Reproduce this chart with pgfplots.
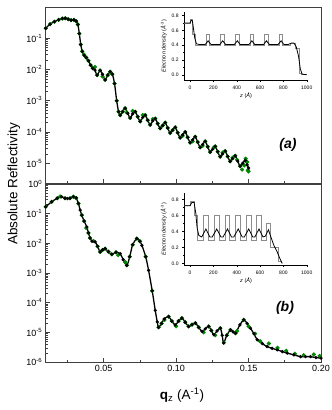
\documentclass[border=0pt]{standalone}
\usepackage{fontspec}
\setmainfont{Liberation Sans}
\usepackage{pgfplots}
\pgfplotsset{compat=1.18}
\pgfplotsset{
  mainax/.style={scale only axis, width=275.3pt, xmin=0.01, xmax=0.2,
    axis line style={black!75, line width=0.9pt},
    tick style={black!75, line width=0.6pt},
    xtick pos=left, ytick pos=left, tick align=inside,
    major tick length=4pt, minor tick length=2.2pt,
    xtick={0.05,0.1,0.15,0.2}, minor xtick={0.025,0.075,0.125,0.175},
    tick label style={font=\fontsize{9}{10}\selectfont},
    clip=false},
  fitline/.style={black, line width=1.3pt, mark=*, mark size=0.9pt, smooth, tension=0.5},
  dat/.style={only marks, mark=*, mark size=1.9pt, mark options={fill=green!55!black, draw=black!50!green, line width=0.4pt}},
  insetax/.style={scale only axis, width=123.7pt, xmin=-50, xmax=1010,
    axis x line*=bottom, axis y line*=left,
    axis line style={black, line width=0.5pt, -},
    tick style={black, line width=0.4pt},
    xtick={0,200,400,600,800,1000}, minor xtick={100,300,500,700,900},
    ytick={0,0.2,0.4,0.6,0.8}, minor ytick={0.1,0.3,0.5,0.7},
    tick align=outside, major tick length=2pt, minor tick length=1.2pt,
    tick label style={font=\fontsize{5}{6}\selectfont},
    /pgf/number format/assume math mode=true,
    yticklabel style={/pgf/number format/.cd, fixed, fixed zerofill, precision=1},
    xticklabel style={/pgf/number format/.cd, fixed, 1000 sep={}},
    xlabel={\textit{z} (\textit{Å})},
    ylabel={\textit{Electron density} (\textit{Å}\textsuperscript{-3})},
    label style={font=\fontsize{5.5}{6.5}\selectfont},
    xlabel style={yshift=3pt}, ylabel style={yshift=-2pt}},
  boxp/.style={black!45, line width=1pt},
  smp/.style={black, line width=0.8pt}
}
\begin{document}
\begin{tikzpicture}
\useasboundingbox (0,0) rectangle (332pt,410pt);
% ---------------- upper panel (a) ----------------
\begin{axis}[mainax, ymode=log, at={(45.7pt,227pt)}, anchor=south west, height=176pt,
  ymin=2.34e-6, ymax=1, xticklabels={},
  ytick={1e-5,1e-4,1e-3,1e-2,1e-1},
  yticklabels={10\textsuperscript{-5},10\textsuperscript{-4},10\textsuperscript{-3},10\textsuperscript{-2},10\textsuperscript{-1}}]
\addplot[dat] table {
q R
0.0100 2.089e-1
0.0130 2.818e-1
0.0160 3.388e-1
0.0190 3.890e-1
0.0215 4.266e-1
0.0235 4.365e-1
0.0255 4.074e-1
0.0275 3.802e-1
0.0295 3.890e-1
0.0310 3.548e-1
0.0322 2.754e-1
0.0332 1.413e-1
0.0342 6.310e-2
0.0352 3.802e-2
0.0365 3.000e-2
0.0380 2.399e-2
0.0395 1.905e-2
0.0410 1.380e-2
0.0425 1.096e-2
0.0440 1.200e-2
0.0455 6.607e-3
0.0475 9.333e-3
0.0492 6.000e-3
0.0510 4.677e-3
0.0528 6.607e-3
0.0545 8.511e-3
0.0560 7.079e-3
0.0575 3.548e-3
0.0590 1.000e-3
0.0603 4.467e-4
0.0614 3.467e-4
0.0631 4.467e-4
0.0648 5.754e-4
0.0660 4.200e-4
0.0683 2.818e-4
0.0700 4.700e-4
0.0718 4.467e-4
0.0735 3.090e-4
0.0752 2.188e-4
0.0770 3.500e-4
0.0787 3.467e-4
0.0804 2.399e-4
0.0821 1.698e-4
0.0839 2.600e-4
0.0856 2.692e-4
0.0873 1.862e-4
0.0890 1.318e-4
0.0908 1.622e-4
0.0925 1.995e-4
0.0942 1.349e-4
0.0959 9.333e-5
0.0976 1.148e-4
0.0994 1.413e-4
0.1011 9.550e-5
0.1028 6.607e-5
0.1045 7.500e-5
0.1063 1.000e-4
0.1080 6.761e-5
0.1097 4.571e-5
0.1114 5.000e-5
0.1132 7.079e-5
0.1149 4.786e-5
0.1166 3.236e-5
0.1183 3.600e-5
0.1201 5.012e-5
0.1218 3.388e-5
0.1235 2.291e-5
0.1260 3.200e-5
0.1270 3.467e-5
0.1287 2.344e-5
0.1304 1.622e-5
0.1321 2.200e-5
0.1339 2.455e-5
0.1356 1.660e-5
0.1373 1.148e-5
0.1390 1.500e-5
0.1408 1.738e-5
0.1420 1.300e-5
0.1442 8.128e-6
0.1455 6.300e-6
0.1470 8.500e-6
0.1480 1.400e-5
0.1490 1.100e-5
0.1495 6.000e-6
0.1500 5.500e-6
};
\addplot[fitline] table {
q R
0.0100 2.089e-1
0.0130 2.818e-1
0.0160 3.388e-1
0.0190 3.890e-1
0.0215 4.266e-1
0.0235 4.365e-1
0.0255 4.074e-1
0.0275 3.802e-1
0.0295 3.890e-1
0.0310 3.548e-1
0.0322 2.754e-1
0.0332 1.413e-1
0.0342 6.310e-2
0.0352 3.802e-2
0.0365 2.818e-2
0.0380 2.399e-2
0.0395 1.905e-2
0.0410 1.380e-2
0.0425 1.096e-2
0.0440 9.550e-3
0.0455 6.607e-3
0.0475 9.333e-3
0.0492 7.079e-3
0.0510 4.677e-3
0.0528 6.607e-3
0.0545 8.511e-3
0.0560 7.079e-3
0.0575 3.548e-3
0.0590 1.000e-3
0.0603 4.467e-4
0.0614 3.467e-4
0.0631 4.467e-4
0.0648 5.754e-4
0.0666 3.981e-4
0.0683 2.818e-4
0.0700 3.802e-4
0.0718 4.467e-4
0.0735 3.090e-4
0.0752 2.188e-4
0.0770 2.951e-4
0.0787 3.467e-4
0.0804 2.399e-4
0.0821 1.698e-4
0.0839 2.291e-4
0.0856 2.692e-4
0.0873 1.862e-4
0.0890 1.318e-4
0.0908 1.622e-4
0.0925 1.995e-4
0.0942 1.349e-4
0.0959 9.333e-5
0.0976 1.148e-4
0.0994 1.413e-4
0.1011 9.550e-5
0.1028 6.607e-5
0.1045 8.128e-5
0.1063 1.000e-4
0.1080 6.761e-5
0.1097 4.571e-5
0.1114 5.623e-5
0.1132 7.079e-5
0.1149 4.786e-5
0.1166 3.236e-5
0.1183 3.981e-5
0.1201 5.012e-5
0.1218 3.388e-5
0.1235 2.291e-5
0.1252 2.818e-5
0.1270 3.467e-5
0.1287 2.344e-5
0.1304 1.622e-5
0.1321 1.995e-5
0.1339 2.455e-5
0.1356 1.660e-5
0.1373 1.148e-5
0.1390 1.413e-5
0.1408 1.738e-5
0.1425 1.175e-5
0.1442 8.128e-6
0.1460 1.000e-5
0.1477 1.230e-5
0.1490 8.913e-6
0.1500 7.079e-6
};
\end{axis}
% ---------------- lower panel (b) ----------------
\begin{axis}[mainax, ymode=log, at={(45.7pt,48pt)}, anchor=south west, height=178pt,
  ymin=1e-6, ymax=1, xticklabels={0.05,0.10,0.15,0.20},
  ytick={1e-6,1e-5,1e-4,1e-3,1e-2,1e-1,1},
  yticklabels={10\textsuperscript{-6},10\textsuperscript{-5},10\textsuperscript{-4},10\textsuperscript{-3},10\textsuperscript{-2},10\textsuperscript{-1},10\textsuperscript{0}}]
\addplot[dat] table {
q R
0.0100 1.698e-1
0.0141 2.512e-1
0.0180 3.311e-1
0.0200 3.800e-1
0.0233 3.311e-1
0.0268 3.311e-1
0.0291 3.715e-1
0.0310 3.388e-1
0.0326 2.188e-1
0.0349 8.913e-2
0.0365 5.623e-2
0.0380 3.300e-2
0.0395 2.239e-2
0.0406 1.514e-2
0.0430 1.200e-2
0.0458 7.943e-3
0.0476 5.129e-3
0.0493 6.026e-3
0.0510 6.607e-3
0.0533 5.248e-3
0.0556 4.266e-3
0.0585 5.012e-3
0.0600 4.000e-3
0.0650 2.300e-3
0.0660 1.820e-3
0.0680 3.548e-3
0.0700 8.913e-3
0.0729 1.445e-2
0.0750 1.175e-2
0.0790 3.548e-3
0.0835 2.512e-4
0.0879 1.479e-5
0.0900 1.995e-5
0.0920 2.600e-5
0.0948 3.388e-5
0.0970 2.399e-5
0.1000 1.600e-5
0.1017 2.399e-5
0.1040 3.020e-5
0.1063 2.188e-5
0.1086 1.585e-5
0.1110 1.820e-5
0.1133 2.042e-5
0.1156 1.479e-5
0.1190 1.000e-5
0.1225 1.585e-5
0.1243 1.148e-5
0.1270 8.000e-6
0.1305 1.380e-5
0.1330 4.500e-6
0.1350 7.943e-6
0.1375 1.202e-5
0.1410 9.333e-6
0.1420 1.100e-5
0.1467 2.630e-5
0.1500 1.600e-5
0.1545 9.000e-6
0.1580 5.000e-6
0.1640 4.200e-6
0.1700 3.000e-6
0.1760 2.400e-6
0.1820 1.900e-6
0.1880 1.700e-6
0.1950 1.800e-6
0.1990 1.600e-6
};
\addplot[fitline] table {
q R
0.0100 1.698e-1
0.0141 2.512e-1
0.0180 3.311e-1
0.0210 3.715e-1
0.0233 3.311e-1
0.0250 3.236e-1
0.0268 3.311e-1
0.0291 3.715e-1
0.0310 3.388e-1
0.0326 2.188e-1
0.0338 1.318e-1
0.0349 8.913e-2
0.0365 5.623e-2
0.0384 3.548e-2
0.0395 2.239e-2
0.0406 1.514e-2
0.0420 1.175e-2
0.0441 1.122e-2
0.0458 7.943e-3
0.0476 5.129e-3
0.0493 6.026e-3
0.0510 6.607e-3
0.0533 5.248e-3
0.0556 4.266e-3
0.0585 5.012e-3
0.0614 4.467e-3
0.0635 2.818e-3
0.0660 1.820e-3
0.0680 3.548e-3
0.0700 8.913e-3
0.0729 1.445e-2
0.0750 1.175e-2
0.0764 8.511e-3
0.0790 3.548e-3
0.0810 1.230e-3
0.0835 2.512e-4
0.0856 5.495e-5
0.0870 2.239e-5
0.0879 1.479e-5
0.0900 1.995e-5
0.0918 2.818e-5
0.0948 3.388e-5
0.0970 2.399e-5
0.0994 1.778e-5
0.1017 2.399e-5
0.1040 3.020e-5
0.1063 2.188e-5
0.1086 1.585e-5
0.1110 1.820e-5
0.1133 2.042e-5
0.1156 1.479e-5
0.1179 1.072e-5
0.1202 1.318e-5
0.1225 1.585e-5
0.1243 1.148e-5
0.1260 8.318e-6
0.1283 1.122e-5
0.1305 1.380e-5
0.1318 7.943e-6
0.1328 4.365e-6
0.1350 7.943e-6
0.1375 1.202e-5
0.1393 1.047e-5
0.1410 9.333e-6
0.1440 1.778e-5
0.1467 2.630e-5
0.1490 1.995e-5
0.1513 1.380e-5
0.1537 8.913e-6
0.1560 5.623e-6
0.1595 4.169e-6
0.1628 3.311e-6
0.1663 2.884e-6
0.1698 2.570e-6
0.1733 2.239e-6
0.1767 1.995e-6
0.1813 1.738e-6
0.1859 1.514e-6
0.1893 1.514e-6
0.1928 1.514e-6
0.1965 1.413e-6
0.2000 1.349e-6
};
\end{axis}
% ---------------- inset (a) ----------------
\begin{axis}[insetax, at={(184.2pt,330pt)}, anchor=south west, height=68pt,
  ymin=-0.07, ymax=0.85]
\addplot[boxp] coordinates {
(-50,0.69) (0,0.69) (0,0.75) (25,0.75) (25,0.55) (45,0.55) (45,0.39)
(140,0.39) (140,0.54) (170,0.54) (170,0.39)
(265,0.39) (265,0.54) (295,0.54) (295,0.39)
(390,0.39) (390,0.54) (420,0.54) (420,0.39)
(515,0.39) (515,0.54) (545,0.54) (545,0.39)
(640,0.39) (640,0.54) (670,0.54) (670,0.39)
(765,0.39) (765,0.54) (795,0.54) (795,0.39)
(860,0.39) (860,0.43) (905,0.43) (905,0.35) (935,0.35) (935,0.02) (955,0.02) (955,0) (1000,0)};
\addplot[smp] coordinates {
(-50,0.70) (0,0.70) (10,0.74) (20,0.73) (30,0.62) (40,0.50) (55,0.42) (80,0.41)
(130,0.41) (155,0.46) (180,0.41) (255,0.41) (280,0.46) (305,0.41)
(380,0.41) (405,0.46) (430,0.41) (505,0.41) (530,0.46) (555,0.41)
(630,0.41) (655,0.46) (680,0.41) (755,0.41) (780,0.46) (805,0.41)
(840,0.41) (870,0.43) (890,0.43) (910,0.38) (930,0.25) (945,0.08) (960,0.01) (1000,0)};
\end{axis}
% ---------------- inset (b) ----------------
\begin{axis}[insetax, at={(184.2pt,145pt)}, anchor=south west, height=72pt,
  ymin=-0.02, ymax=0.88]
\addplot[boxp] coordinates {
(-50,0.72) (0,0.72) (0,0.77) (40,0.77) (40,0.60) (60,0.60) (60,0.29)
(115,0.29) (115,0.60) (157,0.60) (157,0.29)
(208,0.29) (208,0.60) (250,0.60) (250,0.29)
(300,0.29) (300,0.60) (342,0.60) (342,0.29)
(392,0.29) (392,0.60) (434,0.60) (434,0.29)
(482,0.29) (482,0.60) (524,0.60) (524,0.29)
(572,0.29) (572,0.60) (610,0.60) (610,0.29)
(655,0.29) (655,0.50) (690,0.50) (690,0.20) (755,0.20) (755,0.02) (785,0.02) (785,0)};
\addplot[smp] coordinates {
(-50,0.72) (0,0.72) (15,0.76) (35,0.76) (50,0.62) (60,0.45) (75,0.35) (100,0.33)
(136,0.43) (170,0.33) (190,0.33) (229,0.43) (265,0.33) (283,0.33)
(321,0.43) (355,0.33) (375,0.33) (413,0.43) (447,0.33) (465,0.33)
(503,0.43) (537,0.33) (555,0.33) (591,0.43) (625,0.33) (645,0.34)
(672,0.42) (700,0.30) (720,0.22) (745,0.15) (770,0.06) (790,0)};
\end{axis}
% ---------------- labels ----------------
\node[rotate=90] at (14pt,226pt) {\fontsize{13.5}{16}\selectfont Absolute Reflectivity};
\node at (182pt,15pt) {\fontsize{13.5}{16}\selectfont \textbf{q}\textsubscript{z} (A\textsuperscript{-1})};
\node at (288pt,265pt) {\fontsize{14}{16}\selectfont\bfseries\itshape (a)};
\node at (285pt,102pt) {\fontsize{14}{16}\selectfont\bfseries\itshape (b)};
\end{tikzpicture}
\end{document}
